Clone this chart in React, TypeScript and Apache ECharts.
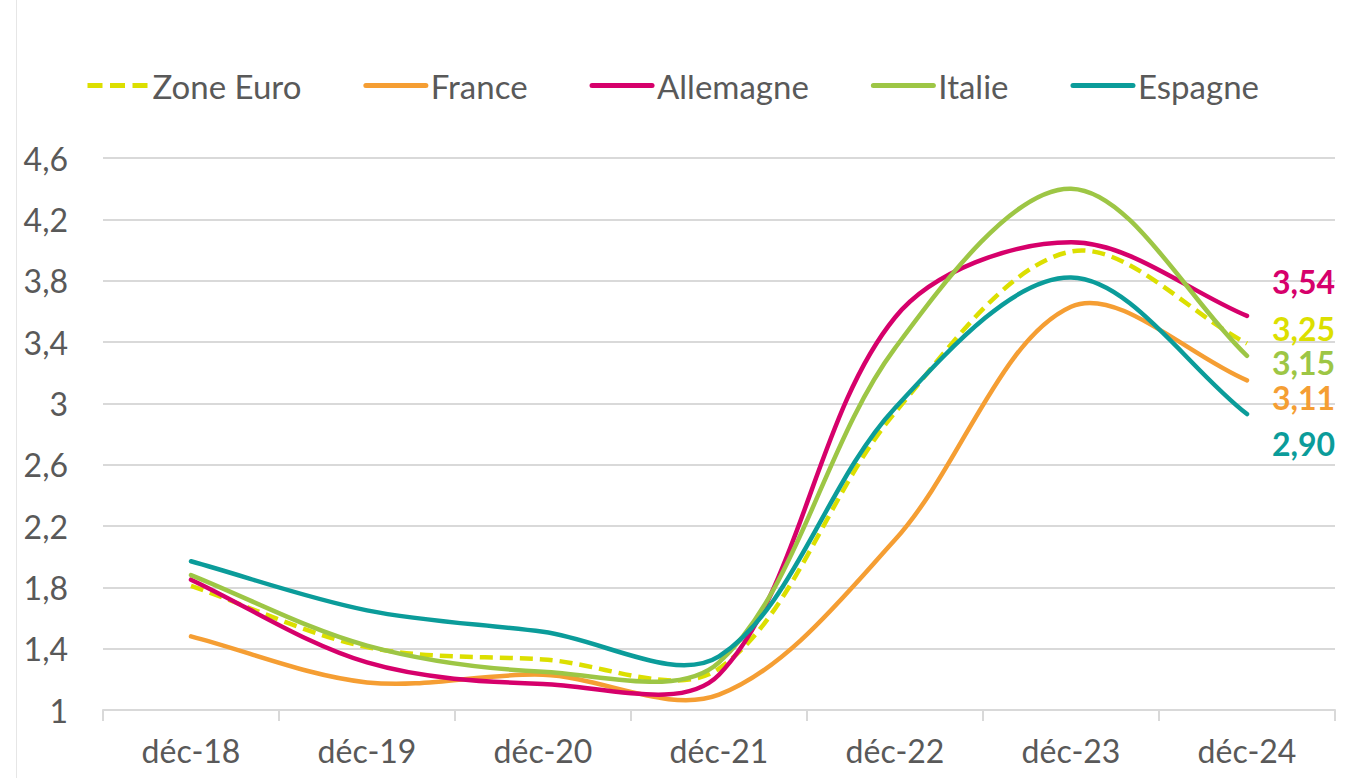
import React, { useEffect, useRef } from "react";
import * as echarts from "echarts";

const categories = ["déc-18", "déc-19", "déc-20", "déc-21", "déc-22", "déc-23", "déc-24"];
const zoneEuro = [1.81, 1.41, 1.33, 1.27, 2.94, 3.99, 3.39];
const france = [1.48, 1.18, 1.23, 1.1, 2.11, 3.63, 3.15];
const allemagne = [1.85, 1.31, 1.17, 1.23, 3.56, 4.05, 3.57];
const italie = [1.88, 1.42, 1.25, 1.31, 3.36, 4.4, 3.31];
const espagne = [1.97, 1.65, 1.51, 1.35, 2.97, 3.82, 2.93];
const seriesNames = ["Zone Euro", "France", "Allemagne", "Italie", "Espagne"];
const latestLabels = ["3,25", "3,11", "3,54", "3,15", "2,90"];
const colors = ["#DCDF00", "#F59E33", "#D6006B", "#9DC645", "#0B9C9A"];
const labelOffsets = [-15, 17, -34, 7, 29];

const FONT = "Lato";
const GREY = "#595959";

// Spreadsheet-like smoothing: Bezier control points weighted by segment lengths
function smoothPath(pts: number[][]): string {
  const s = 1 / 3;
  const dist = (a: number[], b: number[]) => Math.hypot(b[0] - a[0], b[1] - a[1]);
  const n = pts.length;
  const cpIn: number[][] = [];
  const cpOut: number[][] = [];
  for (let j = 0; j < n; j++) {
    const prev = pts[j - 1] || pts[j];
    const cur = pts[j];
    const next = pts[j + 1] || pts[j];
    const vx = next[0] - prev[0];
    const vy = next[1] - prev[1];
    const dP = dist(prev, cur);
    const dN = dist(cur, next);
    const tot = dP + dN || 1;
    cpOut[j] = [cur[0] + vx * s * (dN / tot), cur[1] + vy * s * (dN / tot)];
    cpIn[j] = [cur[0] - vx * s * (dP / tot), cur[1] - vy * s * (dP / tot)];
  }
  let d = `M${pts[0][0]},${pts[0][1]}`;
  for (let j = 0; j < n - 1; j++) {
    const c1 = cpOut[j];
    const c2 = cpIn[j + 1];
    const p2 = pts[j + 1];
    d += ` C${c1[0]},${c1[1]} ${c2[0]},${c2[1]} ${p2[0]},${p2[1]}`;
  }
  return d;
}

export default function App() {
  const ref = useRef<HTMLDivElement>(null);
  useEffect(() => {
    if (!ref.current) return;
    const chart = echarts.init(ref.current, undefined, { renderer: "svg" });
    const values = [zoneEuro, france, allemagne, italie, espagne];

    const lineSeries = seriesNames.map((name, i) => ({
      name,
      type: "line",
      data: values[i],
      symbol: "none",
      color: colors[i],
      lineStyle: { color: colors[i], width: 4.5, opacity: 0 },
      z: 5,
      endLabel: {
        show: true,
        formatter: () => latestLabels[i],
        color: colors[i],
        opacity: 1,
        fontFamily: FONT,
        fontWeight: "bold",
        fontSize: 32,
        distance: 0,
        offset: [25, labelOffsets[i]],
      },
    }));

    const curveSeries = seriesNames.map((name, i) => ({
      name: name + " (courbe)",
      type: "custom",
      coordinateSystem: "cartesian2d",
      data: values[i].map((v, j) => [j, v]),
      encode: { x: 0, y: 1 },
      z: 3,
      renderItem: (params: any, api: any) => {
        if (params.dataIndex !== 0) return null;
        const pts = values[i].map((v, j) => api.coord([j, v]));
        return {
          type: "path",
          shape: { pathData: smoothPath(pts) },
          style: {
            fill: "none",
            stroke: colors[i],
            lineWidth: 4.5,
            lineDash: i === 0 ? [13, 7] : null,
            lineCap: i === 0 ? "butt" : "round",
            lineJoin: "round",
          },
        };
      },
    }));

    chart.setOption({
      animation: false,
      backgroundColor: "#ffffff",
      textStyle: { fontFamily: FONT },
      graphic: [
        {
          type: "line",
          shape: { x1: 16.5, y1: 0, x2: 16.5, y2: 778 },
          style: { stroke: "#e6e6e6", lineWidth: 1 },
        },
      ],
      legend: {
        top: 64,
        left: 80,
        itemWidth: 60,
        itemHeight: 14,
        itemGap: 62,
        textStyle: { fontFamily: FONT, fontSize: 33, color: GREY },
        data: seriesNames.map((name, i) => ({
          name,
          itemStyle: { opacity: 0 },
          lineStyle: {
            color: colors[i],
            width: 5,
            opacity: 1,
            type: i === 0 ? [15, 7.5] : "solid",
            cap: i === 0 ? "butt" : "round",
          },
        })),
      },
      grid: { left: 103, right: 19, top: 158, bottom: 68 },
      xAxis: {
        type: "category",
        data: categories,
        boundaryGap: true,
        axisLine: { lineStyle: { color: "#d9d9d9", width: 2 } },
        axisTick: { show: true, length: 11, lineStyle: { color: "#d9d9d9", width: 2 } },
        axisLabel: { fontFamily: FONT, fontSize: 32, color: GREY, margin: 24 },
        splitLine: { show: false },
      },
      yAxis: {
        type: "value",
        min: 1,
        max: 4.6,
        interval: 0.4,
        axisLine: { show: false },
        axisTick: { show: false },
        axisLabel: {
          fontFamily: FONT,
          fontSize: 32,
          color: GREY,
          margin: 35,
          formatter: (v: number) => String(parseFloat(v.toFixed(1))).replace(".", ","),
        },
        splitLine: { lineStyle: { color: "#d9d9d9", width: 2 } },
      },
      series: [...curveSeries, ...lineSeries],
    });
    return () => chart.dispose();
  }, []);
  return (
    <div
      ref={ref}
      style={{ position: "fixed", left: 0, top: 0, width: 1354, height: 778 }}
    />
  );
}
